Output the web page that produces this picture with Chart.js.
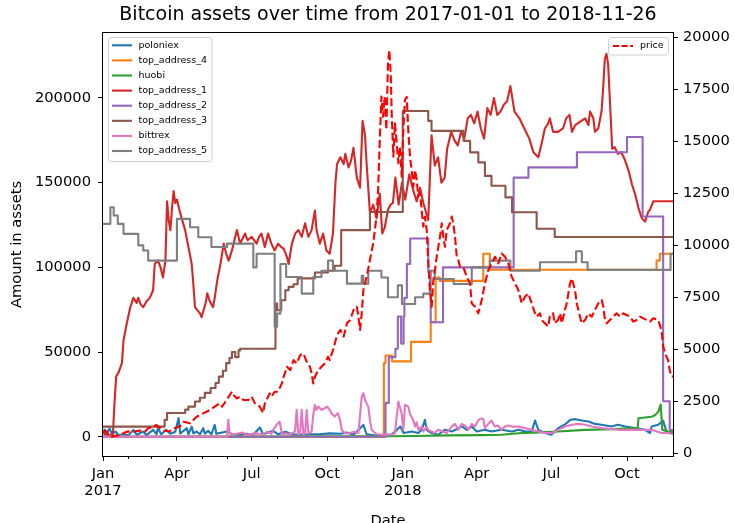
<!DOCTYPE html>
<html>
<head>
<meta charset="utf-8">
<script src="https://cdn.jsdelivr.net/npm/chart.js@4.4.0/dist/chart.umd.min.js"></script>
<style>
  html, body { margin: 0; padding: 0; background: #ffffff; }
  #c { display: block; }
</style>
</head>
<body>
<canvas id="c" width="735" height="523"></canvas>
<script>
// ---------------- DATA (x = days since 2017-01-01) ----------------
const titleText = 'Bitcoin assets over time from 2017-01-01 to 2018-11-26';
const xMaxDay = 694; // 2018-11-26

const majorTickDays = [0, 90, 181, 273, 365, 455, 546, 638];
const majorTickLabels = [['Jan', '2017'], 'Apr', 'Jul', 'Oct', ['Jan', '2018'], 'Apr', 'Jul', 'Oct'];
const minorTickDays = [31, 59, 120, 151, 212, 243, 304, 334, 396, 424, 485, 516, 577, 608, 669];
const leftTicks = [0, 50000, 100000, 150000, 200000];
const rightTicks = [0, 2500, 5000, 7500, 10000, 12500, 15000, 17500, 20000];

const seriesNames = ['poloniex', 'top_address_4', 'huobi', 'top_address_1', 'top_address_2', 'top_address_3', 'bittrex', 'top_address_5'];

const poloniex = [[0,2000],[2,4100],[4,1200],[8,5000],[11,1500],[15,3100],[19,1000],[25,1500],[31,800],[37,4100],[41,1200],[49,3100],[53,1000],[61,4100],[65,1500],[67,5100],[71,1500],[77,4100],[82,1800],[88,3000],[92,11000],[94,2000],[98,3500],[102,5100],[104,1500],[108,6000],[110,2000],[114,3100],[118,1500],[122,5100],[124,1800],[128,3500],[132,1500],[136,7000],[138,1800],[145,2500],[151,3100],[157,1500],[167,1200],[175,1800],[183,1200],[191,5500],[195,1500],[201,2500],[207,3500],[213,1500],[222,3000],[230,1500],[240,1200],[252,1500],[264,1500],[276,2000],[289,1800],[297,2500],[305,1200],[317,7000],[321,1500],[333,800],[343,1200],[351,1200],[358,4100],[362,6100],[366,2200],[376,3100],[384,2200],[388,4100],[392,10000],[394,4100],[400,2200],[408,1200],[416,4100],[425,3100],[437,6100],[443,4100],[449,6100],[455,3100],[465,4100],[473,3100],[485,4100],[498,3100],[506,4100],[514,3100],[522,3100],[526,9600],[530,4100],[538,2200],[546,1200],[554,5100],[562,7100],[569,10000],[575,10400],[583,9600],[591,9000],[599,7600],[607,7100],[619,6100],[627,7100],[636,6100],[648,5100],[660,4100],[666,2200],[668,6100],[676,7100],[682,9500],[686,3100],[694,2500]];

const top_address_4 = [[0,0],[341,0],[342,43500],[344,48000],[352,44500],[375,56000],[399,67600],[405,94000],[410,92000],[463,108000],[471,98600],[674,104000],[678,108000],[694,108000]];

const huobi = [[0,0],[343,300],[380,500],[420,800],[460,1000],[485,1200],[506,2100],[530,2600],[554,3100],[587,4100],[620,4500],[648,5100],[651,5100],[652,10900],[668,11800],[672,12700],[676,14700],[678,17600],[679,19000],[681,4100],[692,2200],[694,4000]];

const top_address_1 = [[0,4000],[2,1500],[12,800],[14,20000],[16,35500],[19,38000],[23,43500],[25,57000],[29,67000],[33,76000],[37,82000],[41,79000],[43,82000],[46,78000],[49,76500],[53,80000],[57,82000],[61,86500],[63,102000],[67,104000],[70,100000],[73,94000],[76,104000],[78,139000],[80,128000],[82,122000],[84,135000],[86,145000],[88,138000],[90,140000],[94,132000],[97,127000],[100,122000],[104,112000],[108,102000],[110,90000],[112,76500],[116,74000],[118,73000],[120,70600],[125,79000],[127,84700],[130,80000],[134,76500],[136,82000],[139,92000],[143,102000],[147,114000],[150,108000],[153,104000],[157,110000],[160,116000],[163,122000],[167,114000],[170,117000],[173,120000],[176,116000],[181,118000],[187,114000],[190,118000],[193,120000],[197,112000],[201,120000],[205,114000],[209,110000],[213,114000],[217,112000],[220,111000],[224,106000],[226,102000],[230,114000],[234,120000],[238,122000],[242,118000],[246,126000],[250,118000],[254,122000],[258,133500],[260,122000],[264,114000],[268,120000],[272,110000],[276,108000],[280,120000],[283,150000],[285,161000],[289,165000],[293,161000],[295,167000],[299,159000],[302,163000],[305,170600],[309,153000],[313,147000],[316,186500],[319,178000],[321,161000],[325,132000],[329,137000],[333,129000],[337,143500],[340,120000],[343,123500],[347,134000],[350,137000],[353,138000],[356,153000],[360,137000],[364,150000],[368,140000],[373,155000],[378,145000],[382,139000],[386,147000],[390,138000],[393,133000],[396,128000],[400,178000],[404,160000],[408,165000],[412,150000],[416,153000],[419,170000],[424,180000],[428,175000],[432,172000],[436,180000],[440,176000],[444,188000],[448,190000],[452,185000],[456,192000],[460,182000],[464,176000],[468,194000],[472,190000],[476,200000],[480,190000],[484,192000],[488,196000],[492,198000],[496,207000],[501,192000],[507,188000],[513,182000],[519,176000],[524,168000],[530,165000],[534,173000],[538,182000],[542,185000],[544,188000],[548,180000],[554,180000],[560,182000],[564,188000],[568,190000],[571,180000],[575,184000],[581,186000],[587,188000],[591,184000],[593,192000],[597,188000],[599,180000],[603,182000],[607,192000],[609,206000],[611,223000],[613,226000],[615,220000],[617,200000],[620,170000],[623,171000],[627,167000],[631,168000],[635,164000],[640,157000],[644,149000],[648,143000],[652,135000],[656,129000],[660,127000],[664,133000],[666,134000],[670,139000],[694,139000]];

const top_address_2 = [[0,0],[343,0],[344,20000],[348,47000],[356,52000],[359,71000],[363,55000],[366,71000],[367,82000],[370,102000],[374,117000],[396,98000],[399,67600],[414,100000],[500,153000],[518,159000],[577,168000],[638,177000],[657,130000],[682,21000],[690,4000],[694,4000]];

const top_address_3 = [[0,6000],[75,10000],[78,14000],[100,16000],[104,17800],[112,20800],[118,23000],[124,25900],[131,28800],[137,31700],[141,35500],[146,39000],[150,43500],[154,46500],[157,50000],[161,47000],[165,51000],[167,52000],[210,78600],[212,74700],[217,80600],[222,86500],[226,88500],[232,90000],[237,93500],[258,97000],[274,98000],[282,101000],[290,122000],[325,132700],[365,192300],[396,186500],[400,180600],[439,174700],[447,167900],[457,162000],[465,154000],[473,148200],[490,141300],[498,132500],[528,122800],[550,117900],[694,117900]];

const bittrex = [[0,0],[151,0],[152.6,10000],[154,2000],[160,1500],[170,2500],[175,1200],[185,2000],[195,1500],[200,3000],[205,1800],[207,4000],[210,6000],[213,8000],[215,9000],[218,1500],[222,2000],[228,1500],[233.8,3000],[235.8,15900],[237.8,1500],[240,2000],[241.9,15900],[244,1500],[246,2000],[248,15900],[250,2000],[254,3000],[256,13000],[258,18800],[260,15900],[262,17800],[266,15900],[270,16800],[273,17800],[276,15900],[278,13900],[282,12000],[286,13900],[288.6,10000],[290.6,4000],[295,2000],[300,2200],[306,3000],[311,2200],[315,23700],[317,25700],[319,21700],[323,17800],[325,10000],[327,4100],[333,1500],[343,1200],[352,1200],[355.5,2200],[359.6,20800],[363.7,13500],[365.7,4100],[367.7,18800],[371.7,17800],[373.8,13500],[375.9,11600],[377.9,9600],[379.9,6000],[381.9,8600],[384,4100],[388,6000],[390,3100],[394,6000],[396,4100],[400,3100],[404,2200],[408,4100],[414,3100],[418.5,2200],[424.6,6000],[428.6,7600],[432.6,4100],[436.7,7600],[440.8,6600],[444.8,4100],[448.9,7600],[452.9,6000],[456.9,9600],[459,10600],[463,10600],[465,5100],[469,7600],[473,9600],[477,6000],[481,6600],[485,4100],[489.5,6000],[493.5,6600],[497.6,6000],[505.7,6000],[513.8,5100],[522,4100],[530,3100],[538,2200],[546,2200],[554,4100],[562.5,6100],[570.7,7100],[578.7,7600],[587,7100],[595,6100],[607,5100],[627,4100],[648,4100],[668,4100],[680,2200],[688,2200],[694,1500]];

const top_address_5 = [[0,125700],[9,135500],[13,130600],[18,125700],[25,119800],[43,113000],[49,110000],[55,104000],[90,128600],[106,123700],[116,117800],[132,112000],[151,114000],[183,100000],[187,108000],[209,65000],[212,72700],[216,102000],[223,94300],[242,84500],[256,94300],[266,98000],[274,104000],[280,98000],[297,90400],[315,95000],[317,90400],[323,98000],[339,94000],[347,82400],[359,89400],[364,78400],[380,82400],[390,84500],[398,98000],[404,93100],[427,90200],[449,100000],[471,104000],[496,98000],[532,103000],[576,109500],[583,103000],[590,98500],[691,108000],[694,108000]];

const price = [[0,1000],[3,1100],[7,900],[11,800],[16,850],[21,900],[29,1040],[37,1040],[45,1100],[51,1040],[55,1200],[60,1250],[65,1360],[70,1200],[74,1100],[80,1050],[84,1120],[86,1200],[94,1300],[98,1520],[106,1440],[110,1600],[114,1760],[118,1840],[126,2000],[130,2080],[136,2240],[142,2400],[145,2240],[149,2480],[153,2720],[157,2960],[159,2800],[163,2640],[167,2720],[171,2560],[177,2560],[181,2720],[185,2400],[191,2240],[195,1940],[197,2400],[199,2560],[203,2880],[205,2720],[209,2960],[213,2960],[218,3380],[220,3680],[224,4160],[228,4000],[232,4480],[236,4320],[240,4720],[244,4800],[248,4400],[252,4160],[254,3840],[256,3360],[258,3680],[260,3840],[262,4000],[266,4160],[270,4320],[274,4640],[276,4480],[280,4960],[285,5690],[289,5930],[293,5610],[297,6250],[301,6410],[305,6890],[309,7050],[311,6570],[313,5930],[315,6730],[317,7850],[321,8490],[325,9290],[329,10100],[333,11380],[335,12660],[337,15060],[339,17150],[341,16190],[343,17150],[345,15550],[347,18750],[348.6,19390],[350.3,18270],[351.5,16350],[353.5,14260],[355.5,15870],[357.6,14910],[359.6,13950],[361.6,14740],[363.7,13300],[365.6,15540],[367.7,16990],[369.8,17140],[371.7,15540],[373.8,14260],[375.8,13620],[377.8,12820],[379.9,13620],[382,13140],[383.9,12340],[386,12500],[388,11700],[390,10900],[392,11380],[394.1,10730],[396.1,9130],[398.1,7850],[400.2,7050],[402.2,8330],[404.2,8810],[406.3,9450],[410.3,10410],[412.4,11060],[414.3,10410],[416.4,9930],[418.5,10730],[422.5,11060],[424.6,11380],[426.5,11060],[428.6,10410],[430.7,9450],[432.6,9290],[434.7,8970],[438.7,8970],[442.8,8490],[446.9,8170],[448.9,7210],[452.9,7050],[456.9,6730],[461.1,7370],[465.1,8170],[469.1,8810],[473.3,9130],[477.3,9450],[481.3,9130],[485.4,9610],[489.5,9450],[493.5,9130],[497.6,8490],[501.6,8170],[505.7,7850],[509.8,7210],[513.8,7530],[517.8,7690],[522,7210],[526,6730],[528,6570],[532,6730],[534,6410],[538,6250],[542,6090],[544,6570],[548,6730],[550,6250],[554,6410],[556.5,6730],[558.5,6250],[562.5,6890],[564.6,7210],[566.6,7690],[568.6,8170],[570.7,8410],[572.6,8170],[574.7,7850],[576.8,7210],[580.8,6570],[582.8,6250],[586.9,6410],[590.9,6730],[595,6570],[599,6890],[603,7210],[607.2,7370],[609.2,7050],[611.2,6410],[613.3,6250],[617.3,6410],[621.3,6570],[625.4,6730],[629.5,6570],[633.5,6730],[637.6,6650],[641.7,6570],[645.7,6330],[649.8,6410],[653.8,6570],[657.9,6490],[662,6410],[666,6330],[670,6490],[676,6410],[680,5930],[682,5130],[686,4650],[688,4490],[690,4010],[692,3690],[694,3700]];

// ---------------- STYLE ----------------
const FONT = "'DejaVu Sans', 'Liberation Sans', sans-serif";
const seriesColors = ['#1f77b4', '#ff7f0e', '#2ca02c', '#d62728', '#9467bd', '#8c564b', '#e377c2', '#7f7f7f'];
const steppedSeries = [false, true, false, false, true, true, false, true];
const priceColor = '#ff0000';
const priceDash = [8, 3.5];
const LINE_W = 2.1;

const leftSeries = [poloniex, top_address_4, huobi, top_address_1, top_address_2, top_address_3, bittrex, top_address_5];

const datasets = leftSeries.map((s, i) => ({
  label: seriesNames[i],
  data: s.map(([d, v]) => ({ x: d, y: v })),
  borderColor: seriesColors[i],
  backgroundColor: seriesColors[i],
  borderWidth: LINE_W,
  pointRadius: 0,
  pointHoverRadius: 0,
  stepped: steppedSeries[i] ? 'before' : false,
  tension: 0,
  fill: false,
  borderJoinStyle: 'round',
  yAxisID: 'y',
  order: leftSeries.length - i
}));
datasets.push({
  label: 'price',
  data: price.map(([d, v]) => ({ x: d, y: v })),
  borderColor: priceColor,
  backgroundColor: priceColor,
  borderWidth: LINE_W,
  borderDash: priceDash,
  pointRadius: 0,
  pointHoverRadius: 0,
  tension: 0,
  fill: false,
  borderJoinStyle: 'round',
  yAxisID: 'y1',
  order: 0
});

function drawLegendBox(ctx, items, box) {
  ctx.save();
  ctx.font = '9.5px ' + FONT;
  let w = box.w;
  if (!w) {
    const tw = Math.max(...items.map(it => ctx.measureText(it.label).width));
    w = (box.textX - box.x) + tw + 5;
  }
  const r = 2.5;
  ctx.beginPath();
  ctx.moveTo(box.x + r, box.y);
  ctx.lineTo(box.x + w - r, box.y);
  ctx.arcTo(box.x + w, box.y, box.x + w, box.y + r, r);
  ctx.lineTo(box.x + w, box.y + box.h - r);
  ctx.arcTo(box.x + w, box.y + box.h, box.x + w - r, box.y + box.h, r);
  ctx.lineTo(box.x + r, box.y + box.h);
  ctx.arcTo(box.x, box.y + box.h, box.x, box.y + box.h - r, r);
  ctx.lineTo(box.x, box.y + r);
  ctx.arcTo(box.x, box.y, box.x + r, box.y, r);
  ctx.closePath();
  ctx.fillStyle = 'rgba(255,255,255,0.8)';
  ctx.fill();
  ctx.strokeStyle = '#d0d0d0';
  ctx.lineWidth = 1;
  ctx.stroke();
  items.forEach((it, i) => {
    const yy = box.y + box.row0 + i * box.rowH;
    ctx.beginPath();
    ctx.setLineDash(it.dash || []);
    ctx.strokeStyle = it.color;
    ctx.lineWidth = LINE_W;
    ctx.moveTo(box.hx0, yy);
    ctx.lineTo(box.hx1, yy);
    ctx.stroke();
    ctx.setLineDash([]);
    ctx.fillStyle = '#000';
    ctx.textBaseline = 'middle';
    ctx.textAlign = 'left';
    ctx.fillText(it.label, box.textX, yy);
  });
  ctx.restore();
}

const decor = {
  id: 'decor',
  afterDatasetsDraw(chart) {
    const { ctx, chartArea: a, scales } = chart;
    ctx.save();
    ctx.strokeStyle = '#000';
    ctx.lineWidth = 1;
    ctx.strokeRect(Math.round(a.left) - 0.5, Math.round(a.top) - 0.5, Math.round(a.right - a.left) + 1, Math.round(a.bottom - a.top) + 1);
    ctx.beginPath();
    minorTickDays.forEach(d => {
      const px = Math.round(scales.x.getPixelForValue(d)) + 0.5;
      ctx.moveTo(px, a.bottom);
      ctx.lineTo(px, a.bottom + 3);
    });
    ctx.stroke();
    ctx.restore();
  },
  afterDraw(chart) {
    const { ctx, chartArea: a } = chart;
    ctx.save();
    ctx.font = '19px ' + FONT;
    ctx.fillStyle = '#000';
    ctx.textAlign = 'center';
    ctx.textBaseline = 'middle';
    ctx.fillText(titleText, (a.left + a.right) / 2, 15);
    ctx.restore();
    const leftItems = seriesNames.map((n, i) => ({ label: n, color: seriesColors[i] }));
    drawLegendBox(ctx, leftItems, { x: 108.5, y: 37.5, h: 124, row0: 7.8, rowH: 15.1, hx0: 112, hx1: 132, textX: 138.5 });
    drawLegendBox(ctx, [{ label: 'price', color: priceColor, dash: [6, 2.6] }], { x: 608.5, y: 37.5, w: 60, h: 17.5, row0: 8.5, rowH: 15, hx0: 613, hx1: 633, textX: 640 });
  }
};

const tickFont = { family: FONT, size: 14.7 };

new Chart(document.getElementById('c'), {
  type: 'line',
  data: { datasets },
  plugins: [decor],
  options: {
    responsive: false,
    maintainAspectRatio: false,
    animation: false,
    devicePixelRatio: 1,
    layout: { padding: { top: 33, left: 0, right: 0, bottom: 0 } },
    plugins: {
      legend: { display: false },
      title: { display: false },
      tooltip: { enabled: false }
    },
    elements: { line: { borderCapStyle: 'butt' } },
    scales: {
      x: {
        type: 'linear',
        min: 0,
        max: xMaxDay,
        afterBuildTicks: s => { s.ticks = majorTickDays.map(v => ({ value: v })); },
        afterFit: s => { s.height = 67; },
        ticks: {
          autoSkip: false,
          maxRotation: 0,
          minRotation: 0,
          padding: 4,
          color: '#000',
          font: tickFont,
          callback: (v) => { const i = majorTickDays.indexOf(v); return i >= 0 ? majorTickLabels[i] : ''; }
        },
        grid: { display: true, drawOnChartArea: false, drawTicks: true, tickLength: 5, tickColor: '#000', tickWidth: 1, color: '#000' },
        border: { display: false },
        title: { display: true, text: 'Date', color: '#000', font: tickFont, padding: { top: 0, bottom: -7 } }
      },
      y: {
        type: 'linear',
        position: 'left',
        min: -11350,
        max: 238350,
        afterBuildTicks: s => { s.ticks = leftTicks.map(v => ({ value: v })); },
        afterFit: s => { s.width = 103; },
        ticks: { padding: 7, color: '#000', font: tickFont, callback: v => String(v) },
        grid: { display: true, drawOnChartArea: false, drawTicks: true, tickLength: 5, tickColor: '#000', tickWidth: 1, color: '#000' },
        border: { display: false },
        title: { display: true, text: 'Amount in assets', color: '#000', font: tickFont, padding: { top: 7.9, bottom: 0 } }
      },
      y1: {
        type: 'linear',
        position: 'right',
        min: -130,
        max: 20210,
        afterBuildTicks: s => { s.ticks = rightTicks.map(v => ({ value: v })); },
        afterFit: s => { s.width = 62; },
        ticks: { padding: 5, color: '#000', font: tickFont, callback: v => String(v) },
        grid: { display: true, drawOnChartArea: false, drawTicks: true, tickLength: 5, tickColor: '#000', tickWidth: 1, color: '#000' },
        border: { display: false }
      }
    }
  }
});
</script>
</body>
</html>
